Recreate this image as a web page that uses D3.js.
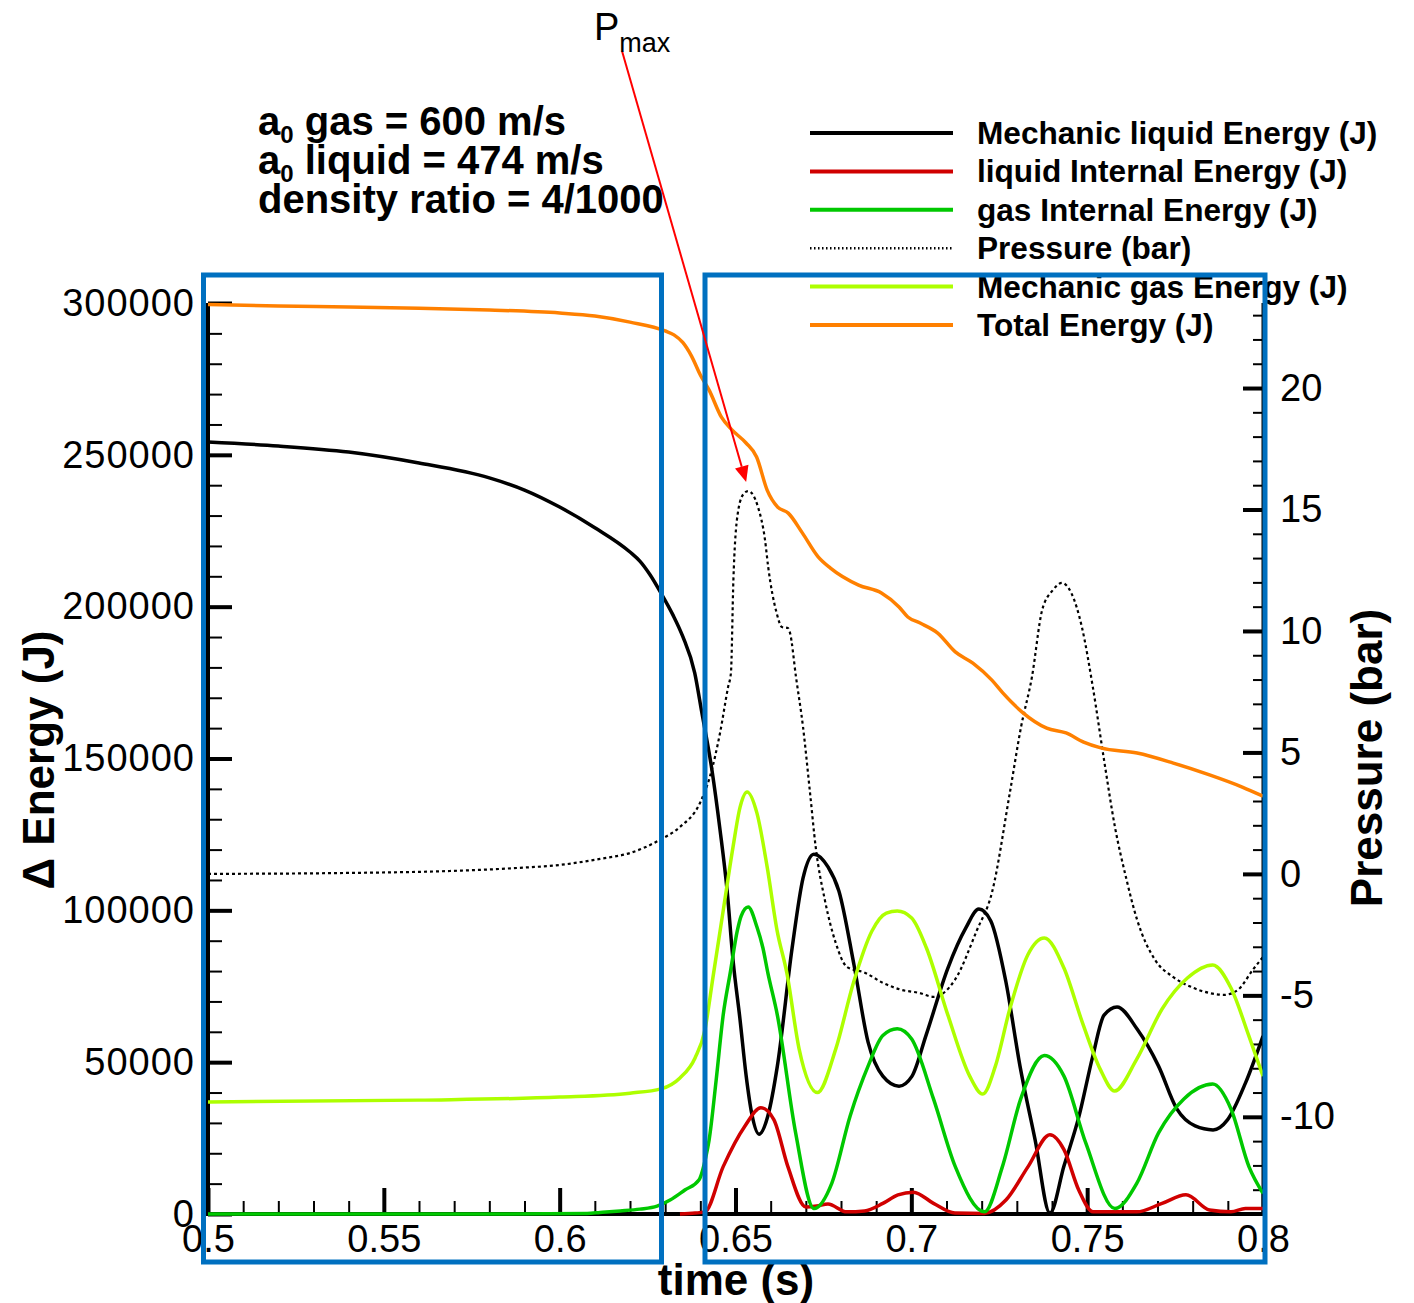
<!DOCTYPE html>
<html>
<head>
<meta charset="utf-8">
<script src="https://cdn.jsdelivr.net/npm/d3@7"></script>
<style>
  body { margin: 0; background: #fff; }
  svg { display: block; }
  text { font-family: "Liberation Sans", Arial, Helvetica, sans-serif; fill: #000; }
</style>
</head>
<body>
<svg id="chart" width="1414" height="1303"></svg>
<script>
// ---- axis ticks ----
const timeMajorTicks = [0.5, 0.55, 0.6, 0.65, 0.7, 0.75, 0.8];
const energyMajorTicks = [0, 50000, 100000, 150000, 200000, 250000, 300000];
const pressureMajorTicks = [-10, -5, 0, 5, 10, 15, 20];

// ---- Mechanic liquid Energy (J) ----
const mechLiquidT = [0.5, 0.52, 0.54, 0.56, 0.58, 0.59, 0.60, 0.61, 0.62, 0.6228, 0.6257, 0.6288, 0.6322, 0.635, 0.6384, 0.6404, 0.6433, 0.6456, 0.6476, 0.6493, 0.6513, 0.653, 0.6547, 0.6567, 0.6592, 0.6619, 0.6661, 0.6692, 0.6723, 0.6763, 0.6794, 0.6837, 0.6877, 0.6919, 0.6965, 0.7002, 0.7042, 0.7104, 0.7155, 0.7192, 0.7226, 0.7269, 0.7309, 0.7352, 0.7394, 0.7434, 0.7477, 0.7516, 0.7548, 0.7585, 0.7642, 0.7703, 0.7755, 0.7807, 0.7858, 0.7899, 0.795, 0.8];
const mechLiquidE = [254200, 252900, 250900, 247300, 242400, 238400, 232800, 226000, 218000, 215000, 210500, 204500, 197300, 190200, 178200, 165300, 146200, 126500, 106700, 83600, 63900, 45800, 32600, 26300, 32300, 48700, 87600, 110600, 118500, 114300, 106400, 82000, 56600, 45400, 42100, 45400, 58900, 81000, 94200, 100400, 96500, 76400, 48700, 24400, 300, 15800, 32300, 52000, 65500, 68200, 60900, 48700, 34600, 29000, 27700, 31000, 43100, 58600];

// ---- liquid Internal Energy (J) ----
const liqInternalT = [0.6342, 0.6385, 0.6413, 0.6465, 0.6527, 0.6572, 0.6609, 0.6649, 0.67, 0.6731, 0.6763, 0.6816, 0.6867, 0.6919, 0.6962, 0.7006, 0.7063, 0.7124, 0.7207, 0.7269, 0.7332, 0.7394, 0.7434, 0.7476, 0.7517, 0.7641, 0.7713, 0.7781, 0.7848, 0.7909, 0.795, 0.8];
const liqInternalE = [0, 300, 700, 15600, 29000, 35000, 31100, 15600, 2300, 2600, 3300, 700, 1000, 3500, 6300, 7200, 3500, 300, 200, 4600, 15600, 26100, 21200, 7900, 700, 700, 3500, 6300, 1300, 700, 1800, 1800];

// ---- gas Internal Energy (J) ----
const gasInternalT = [0.5, 0.58, 0.6078, 0.6115, 0.6172, 0.6228, 0.6277, 0.6314, 0.6356, 0.6396, 0.6416, 0.6425, 0.6445, 0.6465, 0.6485, 0.6505, 0.6516, 0.6536, 0.6561, 0.6578, 0.6592, 0.6619, 0.6671, 0.6723, 0.6774, 0.6826, 0.6877, 0.6919, 0.696, 0.7001, 0.7063, 0.7125, 0.7208, 0.7259, 0.7311, 0.7378, 0.7434, 0.7496, 0.7579, 0.7641, 0.7703, 0.7775, 0.7857, 0.7909, 0.796, 0.8];
const gasInternalE = [0, 0, 200, 500, 1000, 1600, 2600, 4600, 7900, 11200, 19000, 24400, 44100, 65500, 79400, 93200, 98100, 101100, 94500, 87600, 79400, 65500, 26700, 1800, 10200, 32300, 48700, 58800, 61000, 57600, 37900, 15600, 700, 15600, 37900, 52200, 45400, 23400, 1800, 10100, 26700, 37900, 42800, 34600, 15600, 6800];

// ---- Pressure (bar) ----
const pressureT = [0.5, 0.5404, 0.5688, 0.5887, 0.6001, 0.6115, 0.62, 0.6285, 0.6342, 0.6399, 0.6427, 0.6456, 0.6479, 0.6487, 0.6494, 0.6504, 0.6521, 0.6536, 0.655, 0.6564, 0.6584, 0.6593, 0.6617, 0.6632, 0.6649, 0.6655, 0.6672, 0.6692, 0.6712, 0.6728, 0.6754, 0.6785, 0.6817, 0.6868, 0.692, 0.6971, 0.7022, 0.7064, 0.7124, 0.7187, 0.7229, 0.728, 0.7312, 0.7343, 0.7372, 0.7403, 0.7428, 0.7455, 0.7485, 0.7516, 0.7548, 0.7579, 0.761, 0.7642, 0.7693, 0.7744, 0.7795, 0.7847, 0.7889, 0.7929, 0.7971, 0.8];
const pressureP = [0, 0.04, 0.12, 0.25, 0.37, 0.62, 0.86, 1.4, 1.93, 2.92, 3.99, 5.8, 7.7, 8.27, 12.1, 14.57, 15.6, 15.76, 15.6, 15.1, 13.74, 12.63, 10.74, 10.16, 10.12, 9.92, 8.11, 6.05, 3.33, 1.11, -1.07, -2.84, -3.83, -4.07, -4.49, -4.77, -4.9, -5.06, -4.36, -2.3, -0.78, 3.33, 6.05, 8.11, 10.86, 11.69, 11.98, 11.56, 10.16, 7.7, 4.69, 1.93, -0.12, -1.89, -3.54, -4.24, -4.65, -4.9, -4.98, -4.77, -3.95, -3.42];

// ---- Mechanic gas Energy (J) ----
const mechGasT = [0.5, 0.56, 0.6, 0.62, 0.6288, 0.6342, 0.6385, 0.6413, 0.6436, 0.6464, 0.6493, 0.6513, 0.6533, 0.6561, 0.659, 0.6618, 0.6646, 0.6681, 0.6733, 0.6785, 0.6836, 0.6888, 0.6929, 0.696, 0.7001, 0.7043, 0.7104, 0.7166, 0.7203, 0.7239, 0.728, 0.7331, 0.7378, 0.7434, 0.7486, 0.7537, 0.7578, 0.7641, 0.7713, 0.7785, 0.7857, 0.7909, 0.796, 0.8];
const mechGasE = [36900, 37500, 38500, 39800, 41200, 44800, 51400, 60600, 78000, 99100, 120900, 134000, 139000, 132000, 114300, 93500, 79400, 54300, 40000, 54300, 76400, 93200, 99100, 99800, 97500, 87600, 65500, 45400, 39500, 48700, 67500, 85300, 90900, 81000, 63200, 47700, 40500, 51000, 67500, 77700, 82000, 74400, 58600, 45400];

// ---- Total Energy (J) ----
const totalT = [0.5, 0.52, 0.54, 0.56, 0.58, 0.6, 0.61, 0.62, 0.63, 0.6325, 0.635, 0.6375, 0.64, 0.6425, 0.646, 0.649, 0.653, 0.656, 0.659, 0.662, 0.665, 0.669, 0.6735, 0.677, 0.685, 0.6915, 0.6965, 0.699, 0.7025, 0.7075, 0.7125, 0.7175, 0.7229, 0.726, 0.7315, 0.7385, 0.744, 0.749, 0.7539, 0.7642, 0.7745, 0.7848, 0.7941, 0.8];
const totalE = [299500, 299000, 298700, 298300, 297700, 296700, 295700, 293700, 290800, 289500, 287000, 282500, 276300, 271300, 262400, 258200, 253900, 249300, 238400, 232800, 230800, 224300, 216400, 212700, 207100, 204500, 199900, 196600, 194600, 191300, 185100, 181400, 175800, 171600, 165300, 160000, 158400, 155400, 153500, 151800, 148500, 144600, 140600, 137600];

const legendLabels = ["Mechanic liquid Energy (J)", "liquid Internal Energy (J)", "gas Internal Energy (J)", "Pressure (bar)", "Mechanic gas Energy (J)", "Total Energy (J)"];

// ---- layout ----
const svg = d3.select("#chart");
const plotLeft = 208, plotRight = 1263, plotTop = 303, plotBottom = 1214;

const x = d3.scaleLinear().domain([0.5, 0.8]).range([plotLeft, plotRight]);
const yE = d3.scaleLinear().domain([0, 300000]).range([plotBottom, plotTop]);
const yP = d3.scaleLinear().domain([-14, 23.5]).range([plotBottom, plotTop]);

const styles = {
  mechLiquid: { color: "#000000", width: 3.5 },
  liqInternal: { color: "#d00000", width: 3.5 },
  gasInternal: { color: "#00c800", width: 3.5 },
  pressure: { color: "#000000", width: 2.2, dash: "3,3" },
  mechGas: { color: "#adff00", width: 3.5 },
  total: { color: "#ff8000", width: 3.5 }
};

const lineE = d3.line().x(d => x(d[0])).y(d => yE(d[1])).curve(d3.curveMonotoneX);
const lineP = d3.line().x(d => x(d[0])).y(d => yP(d[1])).curve(d3.curveMonotoneX);

// ---- axes ----
const fontSize = 38;
function styleAxis(g, tickWidth) {
  g.select(".domain").remove();
  g.selectAll(".tick line").attr("stroke", "#000").attr("stroke-width", tickWidth);
  g.selectAll(".tick text").attr("font-size", fontSize)
    .attr("font-family", '"Liberation Sans", Arial, sans-serif').attr("fill", "#000");
}

const eMinor = d3.range(0, 300001, 10000).filter(v => v % 50000 !== 0);
svg.append("g").attr("transform", `translate(${plotLeft},0)`)
  .call(d3.axisLeft(yE).tickValues(eMinor).tickSize(-14).tickFormat(""))
  .call(g => styleAxis(g, 2));
svg.append("g").attr("transform", `translate(${plotLeft},0)`)
  .call(d3.axisLeft(yE).tickValues(energyMajorTicks).tickSize(-24).tickPadding(13).tickFormat(d => String(d)))
  .call(g => styleAxis(g, 4))
  .call(g => g.selectAll(".tick text").attr("letter-spacing", 1));

const tMinor = d3.range(50, 81).filter(v => v % 5 !== 0).map(v => v / 100);
svg.append("g").attr("transform", `translate(0,${plotBottom})`)
  .call(d3.axisBottom(x).tickValues(tMinor).tickSize(-13).tickFormat(""))
  .call(g => styleAxis(g, 2));
svg.append("g").attr("transform", `translate(0,${plotBottom})`)
  .call(d3.axisBottom(x).tickValues(timeMajorTicks).tickSize(-26).tickPadding(11).tickFormat(d => String(+d.toFixed(2))))
  .call(g => styleAxis(g, 4));

const pMinor = d3.range(-13, 24).filter(v => v % 5 !== 0);
svg.append("g").attr("transform", `translate(${plotRight},0)`)
  .call(d3.axisRight(yP).tickValues(pMinor).tickSize(-10).tickFormat(""))
  .call(g => styleAxis(g, 2));
svg.append("g").attr("transform", `translate(${plotRight},0)`)
  .call(d3.axisRight(yP).tickValues(pressureMajorTicks).tickSize(-20).tickPadding(17).tickFormat(d => String(d)))
  .call(g => styleAxis(g, 4));

// axis lines
svg.append("line").attr("x1", plotLeft).attr("x2", plotLeft).attr("y1", plotTop).attr("y2", plotBottom + 2)
  .attr("stroke", "#000").attr("stroke-width", 4);
svg.append("line").attr("x1", plotLeft - 2).attr("x2", plotRight).attr("y1", plotBottom).attr("y2", plotBottom)
  .attr("stroke", "#000").attr("stroke-width", 4);
svg.append("line").attr("x1", plotRight).attr("x2", plotRight).attr("y1", plotTop).attr("y2", plotBottom)
  .attr("stroke", "#000").attr("stroke-width", 3);

// axis titles
svg.append("text").attr("transform", "translate(54,760) rotate(-90)")
  .attr("text-anchor", "middle").attr("font-size", 44).attr("font-weight", "bold")
  .text("Δ Energy (J)");
svg.append("text").attr("transform", "translate(1382,758) rotate(-90)")
  .attr("text-anchor", "middle").attr("font-size", 44).attr("font-weight", "bold")
  .text("Pressure (bar)");
svg.append("text").attr("x", 736).attr("y", 1295)
  .attr("text-anchor", "middle").attr("font-size", 44).attr("font-weight", "bold")
  .text("time (s)");

// ---- series ----
const plot = svg.append("g");
function drawE(t, v, s) {
  plot.append("path").datum(d3.zip(t, v)).attr("d", lineE)
    .attr("fill", "none").attr("stroke", s.color).attr("stroke-width", s.width)
    .attr("stroke-linejoin", "round");
}
drawE(mechLiquidT, mechLiquidE, styles.mechLiquid);
drawE(liqInternalT, liqInternalE, styles.liqInternal);
drawE(gasInternalT, gasInternalE, styles.gasInternal);
plot.append("path").datum(d3.zip(pressureT, pressureP)).attr("d", lineP)
  .attr("fill", "none").attr("stroke", styles.pressure.color)
  .attr("stroke-width", styles.pressure.width).attr("stroke-dasharray", styles.pressure.dash);
drawE(mechGasT, mechGasE, styles.mechGas);
drawE(totalT, totalE, styles.total);

// ---- legend ----
const legendKeys = ["mechLiquid", "liqInternal", "gasInternal", "pressure", "mechGas", "total"];
const legend = svg.append("g");
legendKeys.forEach((k, i) => {
  const yy = 133 + i * 38.4;
  const s = styles[k];
  legend.append("line").attr("x1", 810).attr("x2", 953).attr("y1", yy).attr("y2", yy)
    .attr("stroke", s.color)
    .attr("stroke-width", k === "pressure" ? 2.5 : 4)
    .attr("stroke-dasharray", k === "pressure" ? "1.5,2.5" : null);
  legend.append("text").attr("x", 977).attr("y", yy + 11)
    .attr("font-size", 31.6).attr("font-weight", "bold").text(legendLabels[i]);
});

// ---- parameter annotation ----
const note = svg.append("g").attr("font-weight", "bold");
const t1 = note.append("text").attr("x", 258).attr("y", 135).attr("font-size", 40);
t1.append("tspan").text("a");
t1.append("tspan").attr("font-size", 24).attr("dy", 8).text("0");
t1.append("tspan").attr("dy", -8).text(" gas = 600 m/s");
const t2 = note.append("text").attr("x", 258).attr("y", 174).attr("font-size", 40);
t2.append("tspan").text("a");
t2.append("tspan").attr("font-size", 24).attr("dy", 8).text("0");
t2.append("tspan").attr("dy", -8).text(" liquid = 474 m/s");
note.append("text").attr("x", 258).attr("y", 213).attr("font-size", 40)
  .text("density ratio = 4/1000");

// ---- blue highlight frames ----
const frames = svg.append("g").attr("fill", "none").attr("stroke", "#0070c0").attr("stroke-width", 5);
frames.append("rect").attr("x", 203.5).attr("y", 275).attr("width", 458).attr("height", 987);
frames.append("rect").attr("x", 705).attr("y", 275).attr("width", 560).attr("height", 987);

// ---- Pmax arrow ----
const peakIdx = d3.maxIndex(pressureP);
const tipX = x(pressureT[peakIdx]) - 2, tipY = yP(pressureP[peakIdx]) - 9;
const startX = 622, startY = 51;
const ang = Math.atan2(tipY - startY, tipX - startX);
const headLen = 16, headHalf = 7;
const bx = tipX - headLen * Math.cos(ang), by = tipY - headLen * Math.sin(ang);
svg.append("line").attr("x1", startX).attr("y1", startY).attr("x2", bx).attr("y2", by)
  .attr("stroke", "#ff0000").attr("stroke-width", 2);
svg.append("polygon")
  .attr("points", [[tipX, tipY],
    [bx + headHalf * Math.sin(ang), by - headHalf * Math.cos(ang)],
    [bx - headHalf * Math.sin(ang), by + headHalf * Math.cos(ang)]].map(p => p.join(",")).join(" "))
  .attr("fill", "#ff0000");

const pm = svg.append("text").attr("x", 594).attr("y", 40).attr("font-size", 38)
  .attr("font-family", '"Open Sans", "Noto Sans", sans-serif');
pm.append("tspan").text("P");
pm.append("tspan").attr("font-size", 27).attr("dy", 12).text("max");
</script>
</body>
</html>
